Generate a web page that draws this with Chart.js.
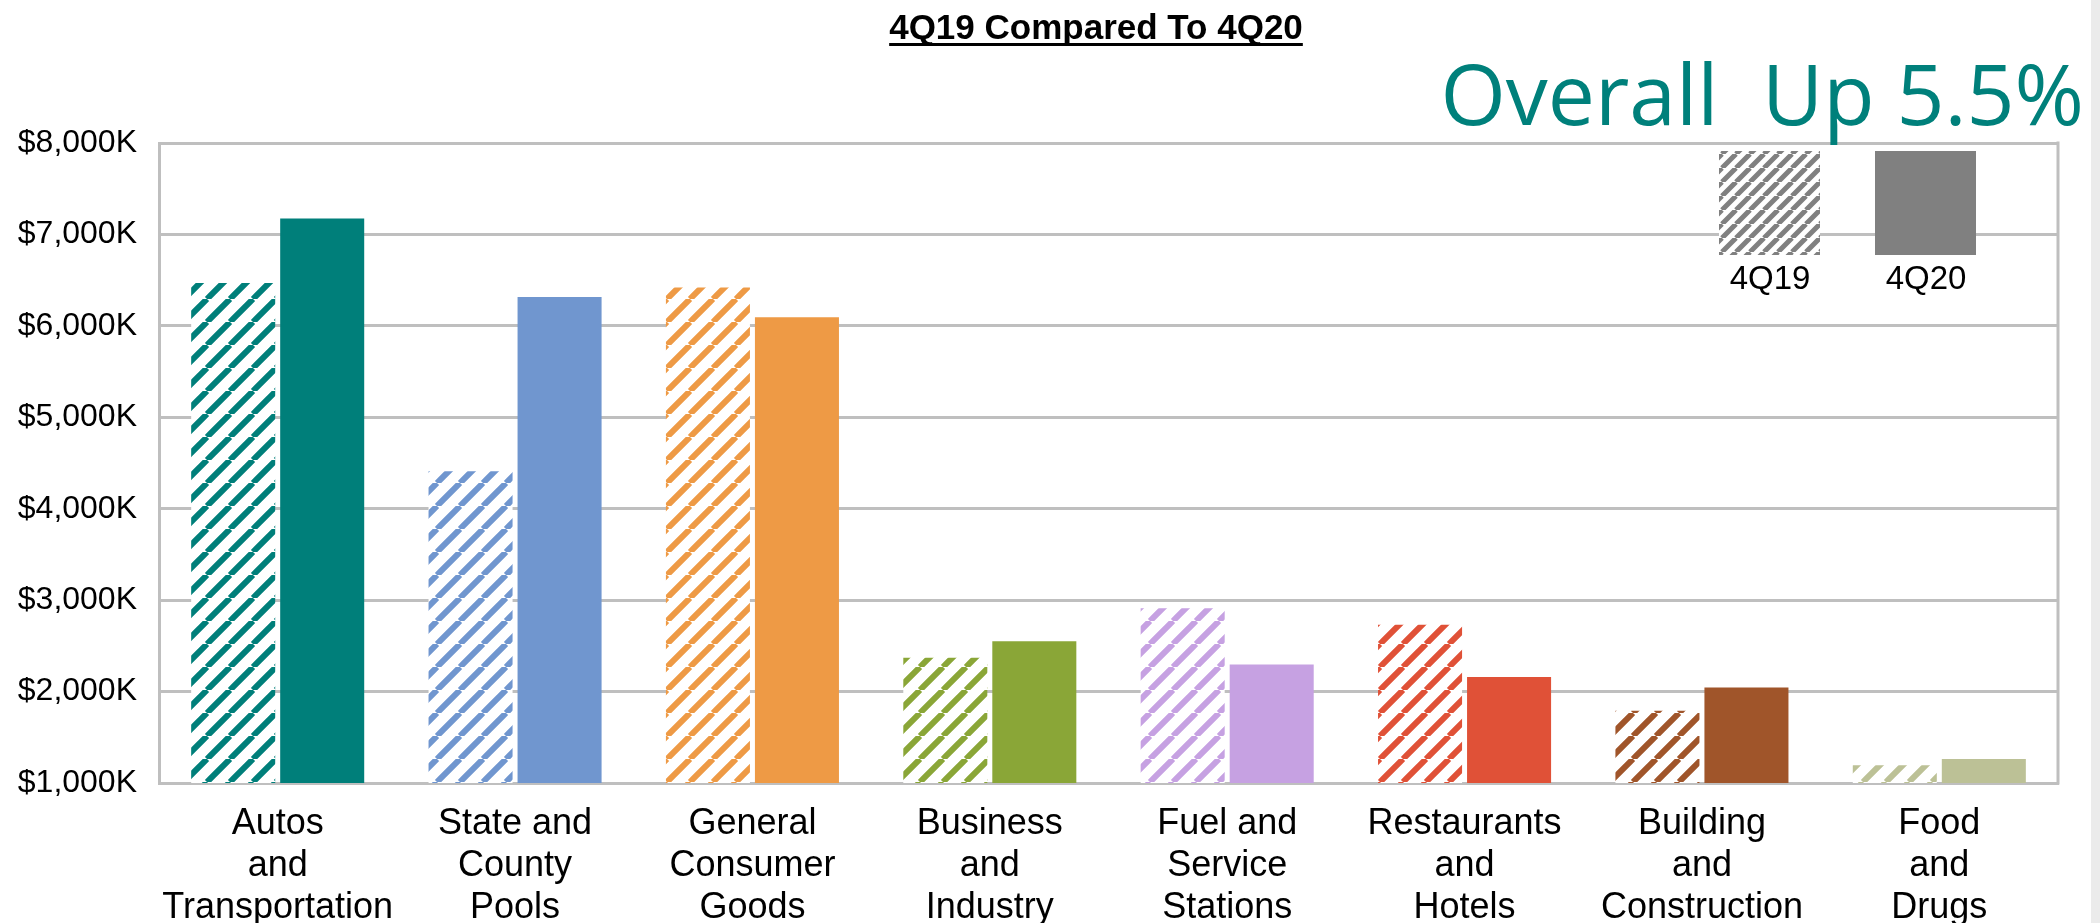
<!DOCTYPE html>
<html>
<head>
<meta charset="utf-8">
<title>4Q19 Compared To 4Q20</title>
<script src="https://cdn.jsdelivr.net/npm/chart.js@4.4.1/dist/chart.umd.min.js"></script>
<style>
  html, body { margin: 0; padding: 0; background: #fff; }
  .chart-wrap { position: relative; width: 2100px; height: 923px; overflow: hidden; }
  .edge { position: absolute; right: 0; top: 0; width: 9px; height: 923px; background: #ebebeb; }
</style>
</head>
<body>
<div class="chart-wrap">
  <canvas id="salesChart" width="2100" height="923"></canvas>
  <div class="edge"></div>
</div>
<script>
'use strict';

const titleText = '4Q19 Compared To 4Q20';
const overallText = 'Overall  Up 5.5%';

const categories = [
  ['Autos', 'and', 'Transportation'],
  ['State and', 'County', 'Pools'],
  ['General', 'Consumer', 'Goods'],
  ['Business', 'and', 'Industry'],
  ['Fuel and', 'Service', 'Stations'],
  ['Restaurants', 'and', 'Hotels'],
  ['Building', 'and', 'Construction'],
  ['Food', 'and', 'Drugs']
];
const seriesNames = ['4Q19', '4Q20'];
const values4Q19 = [6470, 4410, 6420, 2370, 2910, 2730, 1790, 1195];
const values4Q20 = [7175, 6315, 6095, 2550, 2295, 2160, 2045, 1262];
const yTickValues = [1000, 2000, 3000, 4000, 5000, 6000, 7000, 8000];
const categoryColors = ['#007f7a', '#7096cf', '#ee9a45', '#8aa637', '#c6a1e2', '#e05137', '#a0552a', '#bcc196'];

const gridColor = '#bfbfbf';
const fontFamily = '"Liberation Sans", Arial, sans-serif';

// diagonal "/" stripes on white, like the office-chart hatch fill
const makeHatch = (color, size, lineWidth) => {
  const tile = document.createElement('canvas');
  tile.width = size;
  tile.height = size;
  const g = tile.getContext('2d');
  g.fillStyle = '#fff';
  g.fillRect(0, 0, size, size);
  g.strokeStyle = color;
  g.lineWidth = lineWidth;
  g.beginPath();
  for (let k = -1; k <= 1; k++) {
    g.moveTo(k * size, size);
    g.lineTo(k * size + size, 0);
  }
  g.stroke();
  return g.createPattern(tile, 'repeat');
};

const formatTick = (value) => '$' + Number(value).toLocaleString('en-US') + 'K';

const extrasPlugin = {
  id: 'extras',
  beforeDatasetsDraw(chart) {
    const { ctx, chartArea } = chart;
    ctx.save();
    ctx.strokeStyle = gridColor;
    ctx.lineWidth = 3;
    ctx.beginPath();
    ctx.moveTo(chartArea.right, chartArea.top - 1.5);
    ctx.lineTo(chartArea.right, chartArea.bottom + 1.5);
    ctx.stroke();
    ctx.restore();
  },
  afterDraw(chart) {
    const ctx = chart.ctx;
    ctx.save();

    // underlined title
    ctx.font = 'bold 35px ' + fontFamily;
    ctx.fillStyle = '#000';
    ctx.textAlign = 'center';
    ctx.textBaseline = 'alphabetic';
    ctx.fillText(titleText, 1096, 39);
    const tw = ctx.measureText(titleText).width;
    ctx.fillRect(1096 - tw / 2, 43, tw, 3);

    // big teal note
    ctx.font = '84px "Open Sans", "Noto Sans", sans-serif';
    ctx.fillStyle = '#00807b';
    ctx.textAlign = 'right';
    ctx.fillText(overallText, 2084, 125);

    // legend boxes inside the plot
    const fills = [makeHatch('#808080', 14, 5), '#808080'];
    const boxX = [1719, 1875];
    ctx.font = '33px ' + fontFamily;
    ctx.textAlign = 'center';
    ctx.textBaseline = 'middle';
    seriesNames.forEach((name, i) => {
      ctx.fillStyle = fills[i];
      ctx.fillRect(boxX[i], 151, 101, 104);
      ctx.fillStyle = '#000';
      ctx.fillText(name, boxX[i] + 51, 280);
    });

    ctx.restore();
  }
};

const renderChart = () => {
  const ctx = document.getElementById('salesChart').getContext('2d');

  new Chart(ctx, {
    type: 'bar',
    data: {
      labels: categories,
      datasets: [
        {
          label: seriesNames[0],
          data: values4Q19,
          backgroundColor: categoryColors.map(c => makeHatch(c, 23, 6)),
          borderWidth: 0,
          categoryPercentage: 0.75,
          barPercentage: 0.944
        },
        {
          label: seriesNames[1],
          data: values4Q20,
          backgroundColor: categoryColors,
          borderWidth: 0,
          categoryPercentage: 0.75,
          barPercentage: 0.944
        }
      ]
    },
    options: {
      responsive: false,
      animation: false,
      layout: { padding: { top: 143, right: 42, bottom: 0, left: 0 } },
      plugins: {
        legend: { display: false },
        tooltip: { enabled: true }
      },
      scales: {
        x: {
          grid: { display: false, drawTicks: false },
          border: { display: true, color: gridColor, width: 3 },
          ticks: {
            color: '#000',
            padding: 20,
            maxRotation: 0,
            autoSkip: false,
            font: { family: fontFamily, size: 36, lineHeight: 1.167 }
          },
          afterFit: (scale) => { scale.height = 140; }
        },
        y: {
          min: yTickValues[0],
          max: yTickValues[yTickValues.length - 1],
          grid: { color: gridColor, lineWidth: 3, drawTicks: false },
          border: { display: true, color: gridColor, width: 3 },
          ticks: {
            stepSize: 1000,
            color: '#000',
            padding: 22,
            font: { family: fontFamily, size: 32 },
            callback: formatTick
          },
          afterFit: (scale) => { scale.width = 159; }
        }
      }
    },
    plugins: [extrasPlugin]
  });
};

document.addEventListener('DOMContentLoaded', renderChart);
</script>
</body>
</html>
